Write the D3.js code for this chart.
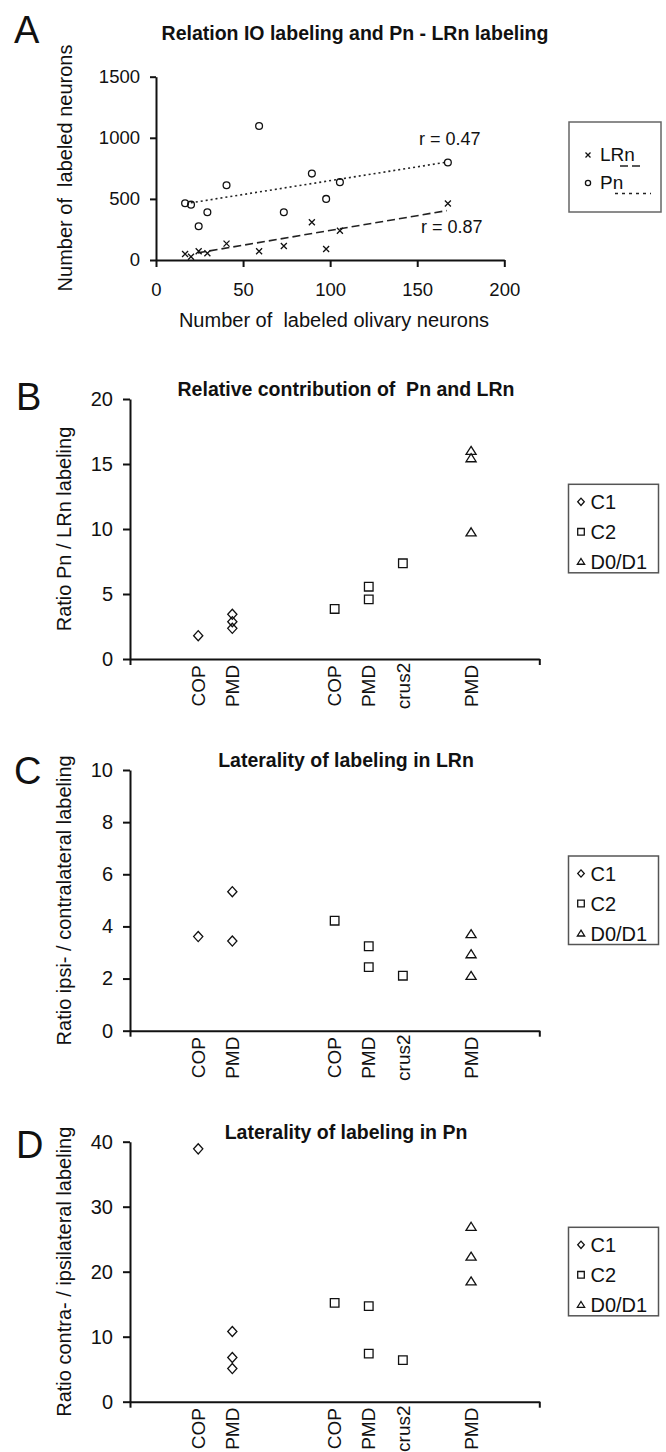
<!DOCTYPE html>
<html>
<head>
<meta charset="utf-8">
<title>IO labeling and Pn / LRn labeling</title>
<script src="https://d3js.org/d3.v7.min.js"></script>
<style>
  body { margin: 0; background: #fff; }
  svg { display: block; font-family: "Liberation Sans", Arial, sans-serif; fill: #111; }
  .axis path, .axis line { stroke: #111; stroke-width: 2; }
  .axis text { fill: #111; }
  .mark { fill: none; stroke: #111; stroke-width: 1.3; }
</style>
</head>
<body>
<svg width="666" height="1452"></svg>
<script>
// A: olivary neurons vs labeled Pn / LRn neurons
const oliveCounts = [16.7, 20.1, 24.5, 29.5, 40.5, 59.2, 73.4, 89.5, 97.7, 105.6, 167.6];
const pnCounts    = [464, 453, 276, 391, 612, 1096, 391, 707, 500, 637, 798];
const lrnCounts   = [49, 27, 71, 55, 134, 71, 115, 309, 90, 240, 462];
const pnTrend  = [[20, 468], [167, 801]];
const lrnTrend = [[24, 58], [167, 404]];
const aXTicks = [0, 50, 100, 150, 200];
const aYTicks = [0, 500, 1000, 1500];

// B-D: categories sit on an x slot 0..12 like the excel sheet
const catLabels = ["COP", "PMD", "COP", "PMD", "crus2", "PMD"];
const catSlots  = [2, 3, 6, 7, 8, 10];
const legendNames = ["C1", "C2", "D0/D1"];

const c1Slots = [2, 3, 3, 3];
const c2Slots = [6, 7, 7, 8];
const dSlots  = [10, 10, 10];

// B: ratio Pn / LRn
const contribC1 = [1.79, 3.44, 2.87, 2.36];
const contribC2 = [3.85, 5.56, 4.59, 7.36];
const contribD  = [16.0, 15.44, 9.74];
const contribTicks = [0, 5, 10, 15, 20];

// C: ipsi / contra in LRn
const lrnLatC1Slots = [2, 3, 3];
const lrnLatC1 = [3.61, 5.33, 3.44];
const lrnLatC2 = [4.22, 3.24, 2.44, 2.11];
const lrnLatD  = [3.70, 2.93, 2.10];
const lrnLatTicks = [0, 2, 4, 6, 8, 10];

// D: contra / ipsi in Pn
const pnLatC1 = [38.9, 10.8, 6.8, 5.1];
const pnLatC2 = [15.2, 14.7, 7.4, 6.4];
const pnLatD  = [26.9, 22.3, 18.5];
const pnLatTicks = [0, 10, 20, 30, 40];

const svg = d3.select("svg");

const diamond = r => `M0,${-r * 1.1}L${r},0L0,${r * 1.1}L${-r},0Z`;
const square = r => `M${-r},${-r}H${r}V${r}H${-r}Z`;
const triangle = r => `M0,${-r}L${r * 1.1},${r * 0.75}H${-r * 1.1}Z`;
const cross = r => `M${-r},${-r}L${r},${r}M${r},${-r}L${-r},${r}`;
const shapes = [diamond, square, triangle];

function cleanAxis(g, size) {
  g.attr("class", "axis").attr("font-family", null).attr("font-size", size);
}

// ---------- panel A ----------
const ax = d3.scaleLinear().domain([0, 200]).range([156, 504.3]);
const ay = d3.scaleLinear().domain([0, 1500]).range([260, 76.7]);

svg.append("text").attr("x", 14).attr("y", 43).attr("font-size", 38).text("A");
svg.append("text").attr("x", 355).attr("y", 40).attr("text-anchor", "middle")
  .attr("font-size", 19.5).attr("font-weight", "bold")
  .text("Relation IO labeling and Pn - LRn labeling");

svg.append("g").attr("transform", "translate(0,260)")
  .call(d3.axisBottom(ax).tickValues(aXTicks).tickFormat(d3.format("d"))
    .tickSizeInner(7).tickSizeOuter(0).tickPadding(16))
  .call(g => cleanAxis(g, 18.5));
svg.append("g").attr("transform", "translate(156,0)")
  .call(d3.axisLeft(ay).tickValues(aYTicks).tickFormat(d3.format("d"))
    .tickSizeInner(6).tickSizeOuter(0).tickPadding(10))
  .call(g => cleanAxis(g, 18.5));

svg.append("text").attr("x", 334).attr("y", 327).attr("text-anchor", "middle").attr("font-size", 20)
  .attr("xml:space", "preserve").text("Number of  labeled olivary neurons");
svg.append("text").attr("transform", "translate(65,168) rotate(-90)").attr("text-anchor", "middle")
  .attr("dy", "0.35em").attr("font-size", 20).attr("xml:space", "preserve")
  .text("Number of  labeled neurons");

const trendLine = d3.line().x(d => ax(d[0])).y(d => ay(d[1]));
svg.append("path").attr("d", trendLine(pnTrend)).attr("fill", "none").attr("stroke", "#222")
  .attr("stroke-width", 1.6).attr("stroke-dasharray", "2,3");
svg.append("path").attr("d", trendLine(lrnTrend)).attr("fill", "none").attr("stroke", "#222")
  .attr("stroke-width", 1.6).attr("stroke-dasharray", "8,4");

svg.append("g").selectAll("circle").data(pnCounts).join("circle")
  .attr("class", "mark").attr("cx", (d, i) => ax(oliveCounts[i])).attr("cy", d => ay(d)).attr("r", 3.4);
svg.append("g").selectAll("path").data(lrnCounts).join("path")
  .attr("class", "mark").attr("d", cross(3))
  .attr("transform", (d, i) => `translate(${ax(oliveCounts[i])},${ay(d)})`);

svg.append("text").attr("x", 419).attr("y", 145).attr("font-size", 18).text("r = 0.47");
svg.append("text").attr("x", 421).attr("y", 233).attr("font-size", 18).text("r = 0.87");

// legend A
const legA = svg.append("g");
legA.append("rect").attr("x", 569).attr("y", 122).attr("width", 92).attr("height", 90)
  .attr("fill", "none").attr("stroke", "#666").attr("stroke-width", 1.5);
legA.append("path").attr("class", "mark").attr("d", cross(2.5)).attr("transform", "translate(588,155)");
legA.append("text").attr("x", 600).attr("y", 161).attr("font-size", 19).text("LRn");
legA.append("line").attr("x1", 620).attr("x2", 643).attr("y1", 166).attr("y2", 166)
  .attr("stroke", "#222").attr("stroke-width", 1.6).attr("stroke-dasharray", "8,4");
legA.append("circle").attr("class", "mark").attr("cx", 588).attr("cy", 183).attr("r", 2.6);
legA.append("text").attr("x", 600).attr("y", 189).attr("font-size", 19).text("Pn");
legA.append("line").attr("x1", 615).attr("x2", 651).attr("y1", 193.5).attr("y2", 193.5)
  .attr("stroke", "#222").attr("stroke-width", 1.6).attr("stroke-dasharray", "3,4");

// ---------- panels B-D ----------
function ratioPanel(p) {
  const x = d3.scaleLinear().domain([0, 12]).range([130, 539.3]);
  const y = d3.scaleLinear().domain([0, d3.max(p.ticks)]).range([p.bottom, p.top]);

  svg.append("text").attr("x", p.letterX).attr("y", p.letterY).attr("font-size", 38).text(p.letter);
  svg.append("text").attr("x", 346).attr("y", p.top - 3).attr("text-anchor", "middle")
    .attr("font-size", 19.5).attr("font-weight", "bold").attr("xml:space", "preserve").text(p.title);
  svg.append("text").attr("transform", `translate(64,${(p.top + p.bottom) / 2}) rotate(-90)`)
    .attr("text-anchor", "middle").attr("dy", "0.35em").attr("font-size", 20).text(p.yTitle);

  svg.append("g").attr("transform", `translate(0,${p.bottom})`)
    .call(d3.axisBottom(x).tickValues([0, 12]).tickSizeInner(6).tickSizeOuter(0).tickFormat(() => ""))
    .call(g => cleanAxis(g, 20));
  svg.append("g").attr("transform", "translate(130,0)")
    .call(d3.axisLeft(y).tickValues(p.ticks).tickSizeInner(7).tickSizeOuter(0).tickPadding(10))
    .call(g => cleanAxis(g, 20));

  svg.append("g").selectAll("text").data(catSlots).join("text")
    .attr("transform", d => `translate(${x(d)},${p.bottom + 27}) rotate(-90)`)
    .attr("text-anchor", "middle").attr("dy", "0.35em").attr("font-size", 19)
    .text((d, i) => catLabels[i]);

  const sizes = [4.6, 4.3, 4.6];
  p.groups.forEach((grp, k) => {
    svg.append("g").selectAll("path").data(grp.values).join("path")
      .attr("class", "mark").attr("d", shapes[k](sizes[k]))
      .attr("transform", (d, i) => `translate(${x(grp.slots[i])},${y(d)})`);
  });

  const leg = svg.append("g").attr("transform", `translate(568.5,${p.legendTop})`);
  leg.append("rect").attr("width", 90).attr("height", 88.5)
    .attr("fill", "none").attr("stroke", "#555").attr("stroke-width", 1.5);
  legendNames.forEach((name, k) => {
    const cy = 17.5 + k * 30;
    leg.append("path").attr("class", "mark").attr("d", shapes[k](3.3))
      .attr("transform", `translate(12.5,${cy})`);
    leg.append("text").attr("x", 22).attr("y", cy + 7).attr("font-size", 20).text(name);
  });
}

ratioPanel({
  letter: "B", letterX: 16, letterY: 410, top: 399, bottom: 659, legendTop: 484.3,
  title: "Relative contribution of  Pn and LRn", yTitle: "Ratio Pn / LRn labeling",
  ticks: contribTicks,
  groups: [
    { slots: c1Slots, values: contribC1 },
    { slots: c2Slots, values: contribC2 },
    { slots: dSlots, values: contribD }
  ]
});

ratioPanel({
  letter: "C", letterX: 14, letterY: 784, top: 770, bottom: 1030.7, legendTop: 856,
  title: "Laterality of labeling in LRn", yTitle: "Ratio ipsi- / contralateral labeling",
  ticks: lrnLatTicks,
  groups: [
    { slots: lrnLatC1Slots, values: lrnLatC1 },
    { slots: c2Slots, values: lrnLatC2 },
    { slots: dSlots, values: lrnLatD }
  ]
});

ratioPanel({
  letter: "D", letterX: 16, letterY: 1158, top: 1141.7, bottom: 1401.7, legendTop: 1227.3,
  title: "Laterality of labeling in Pn", yTitle: "Ratio contra- / ipsilateral labeling",
  ticks: pnLatTicks,
  groups: [
    { slots: c1Slots, values: pnLatC1 },
    { slots: c2Slots, values: pnLatC2 },
    { slots: dSlots, values: pnLatD }
  ]
});
</script>
</body>
</html>
